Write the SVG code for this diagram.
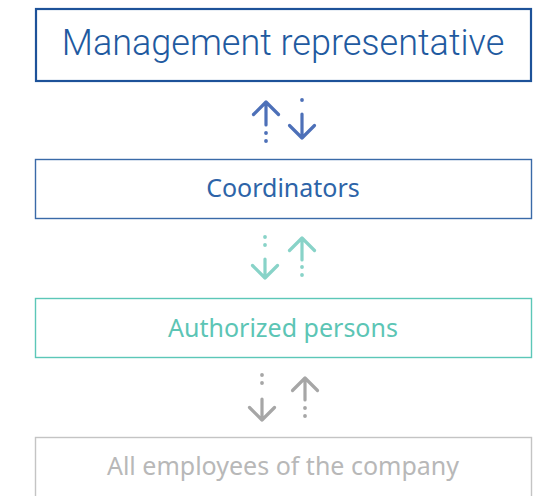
<svg xmlns="http://www.w3.org/2000/svg" width="539" height="496" viewBox="0 0 539 496">
<style>
text{font-family:"Noto Sans","Open Sans",sans-serif;text-anchor:middle}
.box{fill:#fff}
.a{fill:none;stroke-width:3.2;stroke-linecap:round;stroke-linejoin:round}
.d{fill:none;stroke-width:3.8;stroke-linecap:round;stroke-dasharray:0 8}
.b1{stroke:#4d70b8}.b2{stroke:#88d3c8}.b3{stroke:#a6a6a6}
</style>
<rect width="539" height="496" fill="#fff"/>
<g id="management">
<rect class="box" x="36" y="9" width="495" height="72" stroke="#1d5299" stroke-width="2.2"/>
<text x="283" y="55" font-size="36" fill="#1f5aa0" style="font-family:Roboto,sans-serif;font-weight:300">Management representative</text>
</g>
<g id="coordinators">
<rect class="box" x="35.5" y="159.5" width="496" height="59" stroke="#3a6aa8" stroke-width="1.4"/>
<text x="283" y="197" font-size="25" fill="#2d64a8">Coordinators</text>
</g>
<g id="authorized">
<rect class="box" x="35.5" y="298.5" width="496" height="59" stroke="#5cc7b8" stroke-width="1.4"/>
<text x="283" y="337" font-size="25" fill="#5cc5b5">Authorized persons</text>
</g>
<g id="employees">
<rect class="box" x="35.5" y="437.5" width="496" height="70" stroke="#c4c4c4" stroke-width="1.4"/>
<text x="283" y="475" font-size="25" fill="#b8b8b8">All employees of the company</text>
</g>
<g id="connectors">
<path class="a b1" d="M266 125V102M253.5 114.5L266 102L278.5 114.5"/>
<path class="d b1" d="M266 133V142"/>
<path class="a b1" d="M302 114V138M289.5 125.5L302 138L314.5 125.5"/>
<path class="d b1" d="M302 100V108"/>
<path class="a b2" d="M265 259V278M252.5 265.5L265 278L277.5 265.5"/>
<path class="d b2" d="M265 237V253"/>
<path class="a b2" d="M302 260V238M289.5 250.5L302 238L314.5 250.5"/>
<path class="d b2" d="M302 267V283"/>
<path class="a b3" d="M262 399V420M249.5 407.5L262 420L274.5 407.5"/>
<path class="d b3" d="M262 375V391"/>
<path class="a b3" d="M305 400V378M292.5 390.5L305 378L317.5 390.5"/>
<path class="d b3" d="M305 408V424"/>
</g>
</svg>
